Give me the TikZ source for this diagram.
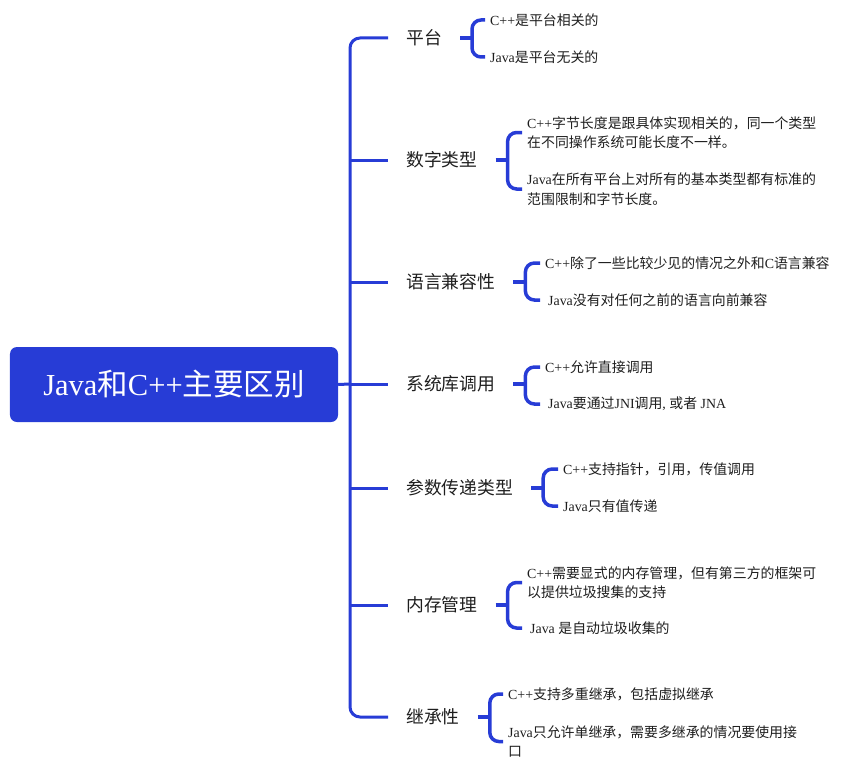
\documentclass[tikz,border=0pt]{standalone}
\usepackage{fontspec}
\setmainfont{Liberation Serif}
\newfontfamily\cjk{Noto Sans CJK SC}
\newcommand\z[1]{{\cjk #1}}
\definecolor{mblue}{RGB}{39,60,214}
\definecolor{txt}{RGB}{30,30,30}
\begin{document}
\begin{tikzpicture}[x=1bp,y=-1bp,
  line/.style={draw=mblue,line width=3bp},
  brace/.style={draw=mblue,line width=3.5bp,rounded corners=9bp},
  branch/.style={anchor=west,inner xsep=18bp,inner ysep=2bp,text=txt,font=\fontsize{17.8bp}{21bp}\selectfont},
  leaf/.style={anchor=west,inner xsep=5bp,inner ysep=1bp,align=left,text=txt,font=\fontsize{13.9bp}{19.5bp}\selectfont},
  root/.style={fill=mblue,rounded corners=7bp,minimum width=328bp,minimum height=75bp,text=white,font=\fontsize{30.5bp}{34bp}\selectfont},
]
\useasboundingbox (0,0) rectangle (855,763);

\node[root] (root) at (174,384.5) {Java\z{和}C++\z{主要区别}};

% branches
\node[branch] (b1) at (388,38) {\z{平台}};
\node[branch] (b2) at (388,160) {\z{数字类型}};
\node[branch] (b3) at (388,282) {\z{语言兼容性}};
\node[branch] (b4) at (388,384) {\z{系统库调用}};
\node[branch] (b5) at (388,488) {\z{参数传递类型}};
\node[branch] (b6) at (388,605) {\z{内存管理}};
\node[branch] (b7) at (388,717) {\z{继承性}};

\coordinate (tm) at (350,384);
\draw[line,rounded corners=10bp] (b1.west) -| (tm) |- (b7.west);
\foreach \b in {b2,b3,b4,b5,b6}
  \draw[line] (\b.west -| tm) -- (\b.west);
\draw[line] (root.east) -- (tm);

% leaves
\node[leaf] (l11) at (485,20) {C++\z{是平台相关的}};
\node[leaf] (l12) at (485,57) {Java\z{是平台无关的}};

\node[leaf] (l21) at (522,132.5) {C++\z{字节长度是跟具体实现相关的，同一个类型}\\\z{在不同操作系统可能长度不一样。}};
\node[leaf] (l22) at (522,189) {Java\z{在所有平台上对所有的基本类型都有标准的}\\\z{范围限制和字节长度。}};

\node[leaf] (l31) at (540,263) {C++\z{除了一些比较少见的情况之外和}C\z{语言兼容}};
\node[leaf] (l32) at (540,300) {\hspace*{3bp}Java\z{没有对任何之前的语言向前兼容}};

\node[leaf] (l41) at (540,367) {C++\z{允许直接调用}};
\node[leaf] (l42) at (540,404) {\hspace*{3bp}Java\z{要通过}JNI\z{调用}, \z{或者} JNA};

\node[leaf] (l51) at (558,469) {C++\z{支持指针，引用，传值调用}};
\node[leaf] (l52) at (558,506) {Java\z{只有值传递}};

\node[leaf] (l61) at (522,582.5) {C++\z{需要显式的内存管理，但有第三方的框架可}\\\z{以提供垃圾搜集的支持}};
\node[leaf] (l62) at (522,628) {\hspace*{3bp}Java \z{是自动垃圾收集的}};

\node[leaf] (l71) at (503,694) {C++\z{支持多重继承，包括虚拟继承}};
\node[leaf] (l72) at (503,741.5) {Java\z{只允许单继承，需要多继承的情况要使用接}\\\z{口}};

% braces
\foreach \b/\u/\d in {b1/l11/l12,b2/l21/l22,b3/l31/l32,b4/l41/l42,b5/l51/l52,b6/l61/l62,b7/l71/l72}{
  \draw[brace] (\u.west) -| ([xshift=12bp]\b.east) |- (\d.west);
  \draw[brace] (\b.east) -- ([xshift=12bp]\b.east);
}
\end{tikzpicture}
\end{document}
